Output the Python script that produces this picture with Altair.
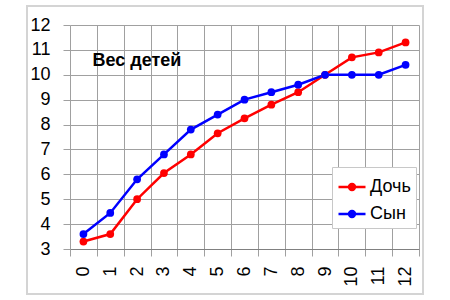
import altair as alt
import pandas as pd

ages = list(range(13))
doch = [3.3, 3.6, 5.0, 6.05, 6.8, 7.65, 8.25, 8.8, 9.3, 10.0, 10.7, 10.9, 11.3]
syn = [3.6, 4.45, 5.8, 6.8, 7.8, 8.4, 9.0, 9.3, 9.6, 10.0, 10.0, 10.0, 10.4]
series = ["Дочь", "Сын"]
colors = ["#ff0000", "#0000ff"]
title_text = "Вес детей"

df = pd.concat([
    pd.DataFrame({"age": ages, "w": doch, "s": series[0], "o": 0}),
    pd.DataFrame({"age": ages, "w": syn, "s": series[1], "o": 1}),
])

FONT = "Liberation Sans"
grid_col = "#a0a0a0"

xvals = sorted([i - 0.5 for i in range(14)] + ages)

x = alt.X(
    "age:Q",
    scale=alt.Scale(domain=[-0.5, 12.5], nice=False, zero=False),
    axis=alt.Axis(
        title=None,
        values=xvals,
        labelExpr="datum.value % 1 == 0 ? format(datum.value, 'd') : ''",
        labelAngle=270,
        labelFontSize=18,
        labelFont=FONT,
        labelColor="#000000",
        labelPadding=10,
        labelOverlap=False,
        labelFlush=False,
        tickSize=7,
        tickColor=grid_col,
        tickOpacity={"condition": {"test": "datum.value % 1 != 0", "value": 1}, "value": 0},
        grid=True,
        gridColor=grid_col,
        gridOpacity={"condition": {"test": "datum.value % 1 != 0", "value": 1}, "value": 0},
        domainColor="#808080",
    ),
)
y = alt.Y(
    "w:Q",
    scale=alt.Scale(domain=[3, 12], nice=False, zero=False),
    axis=alt.Axis(
        title=None,
        values=list(range(3, 13)),
        labelFontSize=18,
        labelFont=FONT,
        labelColor="#000000",
        labelPadding=13,
        tickSize=7,
        tickColor=grid_col,
        gridColor=grid_col,
        domain=False,
    ),
)

# line with a dot, the dot drawn as concentric stroked rings so it appears solid
legend_symbol = ("M-1,0H1"
                 "M-0.22,0A0.22,0.22 0 1,1 0.22,0A0.22,0.22 0 1,1 -0.22,0"
                 "M-0.09,0A0.09,0.09 0 1,1 0.09,0A0.09,0.09 0 1,1 -0.09,0")

color = alt.Color(
    "s:N",
    scale=alt.Scale(domain=series, range=colors),
    legend=alt.Legend(
        title=None,
        orient="none",
        legendX=262,
        legendY=142,
        symbolType=legend_symbol,
        symbolSize=729,
        symbolStrokeWidth=2.5,
        labelFontSize=18,
        labelFont=FONT,
        labelColor="#000000",
        labelOffset=3,
        padding=5,
        rowPadding=3,
        strokeColor="#c8c8c8",
        fillColor="#ffffff",
        cornerRadius=0,
    ),
)

lines = alt.Chart(df).mark_line(
    strokeWidth=2.5,
    point=alt.OverlayMarkDef(size=60, filled=True, opacity=1),
).encode(x=x, y=y, color=color, order="o:Q")

border = alt.Chart(pd.DataFrame({"a": [0]})).mark_rect(
    fill=None, stroke="#d4d4d4", strokeWidth=2
).encode(
    x=alt.value(-43), x2=alt.value(353), y=alt.value(-19), y2=alt.value(269)
)

title = alt.Chart(pd.DataFrame({"a": [0]})).mark_text(
    font=FONT, fontSize=18, fontWeight="bold", color="#000000", align="center", baseline="middle"
).encode(x=alt.value(67), y=alt.value(36), text=alt.value(title_text))

chart = alt.layer(border, lines, title).properties(
    width=349,
    height=224,
    padding={"left": 70, "top": 25, "right": 31, "bottom": 51},
    autosize=alt.AutoSizeParams(type="none"),
    background="#ffffff",
).configure_view(stroke=None)

chart.save("out.html", embed_options={"renderer": "svg", "actions": False})
